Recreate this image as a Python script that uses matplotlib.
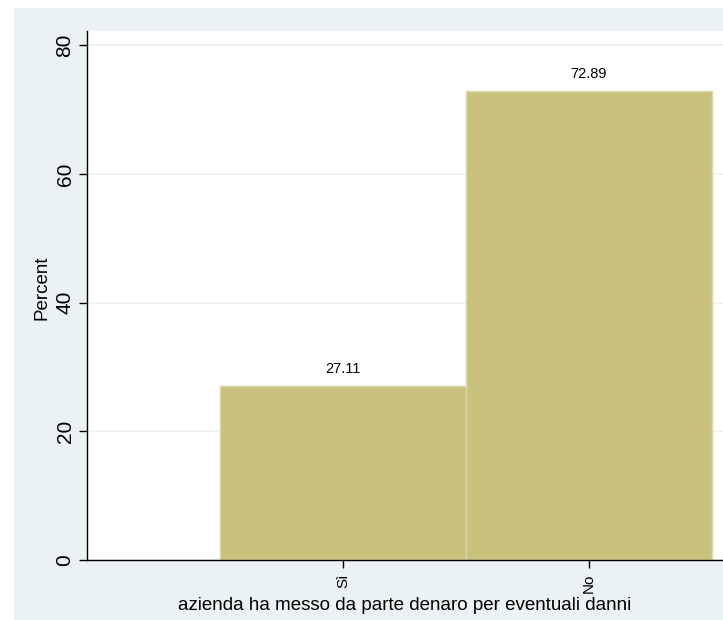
import matplotlib.pyplot as plt
from matplotlib.patches import Rectangle

categories = ["Sì", "No"]
percents = [27.11, 72.89]

plt.rcParams["font.family"] = ["Liberation Sans Narrow", "Liberation Sans", "DejaVu Sans"]

fig = plt.figure(figsize=(7.23, 6.2), dpi=100)
fig.patches.append(Rectangle((14 / 723, 0), 1, 1 - 8 / 620, transform=fig.transFigure,
                             facecolor="#eaf2f3", edgecolor="none", zorder=-10))

ax = fig.add_axes([87 / 723, 60 / 620, 1 - 87 / 723, 529 / 620])
ax.set_facecolor("white")

x = [1, 2]
bars = ax.bar(x, percents, width=1.0, color="#c9c27f", edgecolor="#ddd7a8", linewidth=1, zorder=2)
for xi, v in zip(x, percents):
    ax.text(xi, v + 1.5, f"{v:.2f}", ha="center", va="bottom", fontsize=10.5, zorder=3)

ax.set_xlim(-0.04, 2.545)
ax.set_ylim(0, 82.2)
ax.set_yticks([0, 20, 40, 60, 80])
ax.set_xticks(x)
ax.set_xticklabels(categories, rotation=90, fontsize=11)
for lbl in ax.get_yticklabels():
    lbl.set_rotation(90)
    lbl.set_va("center")
ax.tick_params(axis="y", labelsize=15, length=6, width=1, pad=3)
ax.tick_params(axis="x", length=6, width=1, pad=4)
ax.grid(axis="y", color="#eaf2f3", linewidth=1.2, zorder=1)
ax.set_axisbelow(True)

for s in ["top", "right"]:
    ax.spines[s].set_visible(False)
ax.spines["left"].set_linewidth(1)
ax.spines["bottom"].set_linewidth(1)

ax.set_ylabel("Percent", fontsize=13.5)
ax.yaxis.set_label_coords(-0.058, 0.515)
ax.set_xlabel("azienda ha messo da parte denaro per eventuali danni", fontsize=13.5, labelpad=3)

fig.savefig("out.png", dpi=100)
